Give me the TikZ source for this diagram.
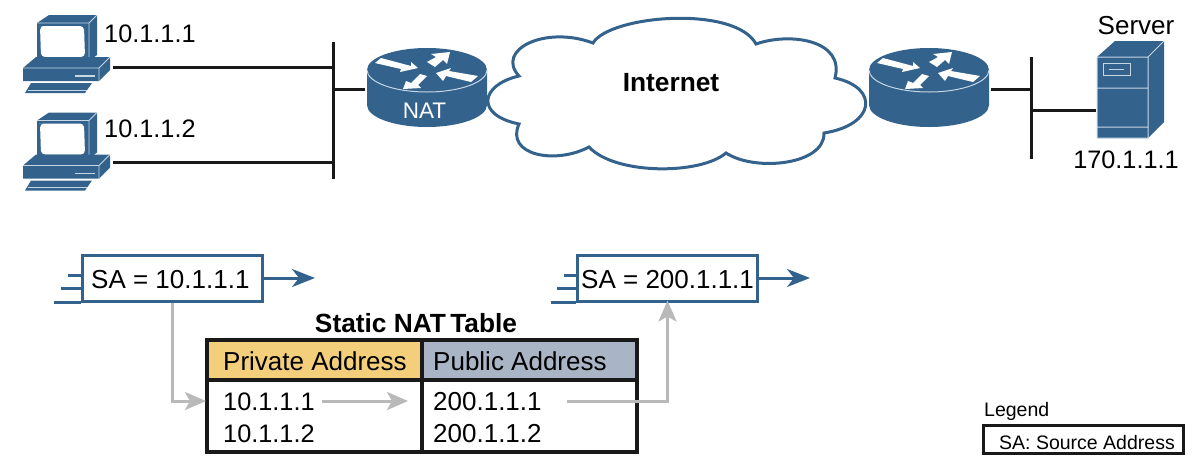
\documentclass[tikz,border=0pt]{standalone}
\usepackage{xcolor}
\usepackage{fontspec}
\setmainfont{Liberation Sans}
\usetikzlibrary{arrows.meta}

\definecolor{netblue}{HTML}{33628C}
\definecolor{iconline}{HTML}{C6D6E4}
\definecolor{flowgray}{HTML}{B9B9B9}
\definecolor{privfill}{HTML}{F3CF7C}
\definecolor{pubfill}{HTML}{A9B5C5}

\tikzset{
  wire/.style={draw=black!90, line width=3pt},
  flow/.style={draw=flowgray, line width=3pt, -{Stealth[length=21pt,width=18pt,inset=5pt]}},
  packet/.style={draw=netblue, line width=3pt, fill=white, minimum width=180pt, minimum height=46pt, inner sep=0pt},
  stub/.style={draw=netblue, line width=3pt},
  label/.style={inner sep=0pt, font=\fontsize{26}{26}\selectfont},
  hostlabel/.style={inner sep=0pt, font=\fontsize{25.3}{26}\selectfont},
  boldlabel/.style={inner sep=0pt, font=\fontsize{26.3}{26}\selectfont\bfseries},
  cell/.style={draw=black!90, line width=3.4pt, inner sep=0pt},
  pc/.pic={
    % monitor
    \fill[netblue] (37,23) -- (49,15) -- (97,15) -- (97,55) -- (89,61) -- (37,61) -- cycle;
    \draw[iconline, line width=.8pt] (37,23) -- (89,23) -- (97,15) (89,23) -- (89,61);
    \fill[white] (43,26) [rounded corners=4pt] -- (84,26) -- (85,57) -- (41,57) -- (40,26) -- cycle;
    % base
    \fill[netblue] (23,68) -- (36,57) -- (110,57) -- (110,70) -- (99,81) -- (23,81) -- cycle;
    \draw[iconline, line width=.8pt] (23,68) -- (99,68) -- (110,57) (99,68) -- (99,81);
    \draw[iconline, line width=1.6pt] (75,76) -- (95,76);
    % keyboard
    \fill[netblue] (31,83) -- (92,83) -- (85,93) -- (25,93) -- cycle;
    \draw[iconline, line width=.8pt] (28,90) -- (87,90);
  },
  router/.pic={
    \fill[netblue] (-60,70) arc[start angle=180, end angle=360, x radius=60, y radius=22]
      -- (60,105) arc[start angle=0, end angle=180, x radius=60, y radius=22] -- cycle;
    \draw[iconline, line width=1pt] (-60,70) arc[start angle=180, end angle=0, x radius=60, y radius=22];
    \begin{scope}[shift={(0,68)}]
      \fill[white] (-52,-5) -- (-46,-10) -- (-16,-2) -- (-16,-6) -- (-9,0) -- (-27,4) -- (-26,1) -- cycle;
      \fill[white] (23,-16) -- (20,-4) -- (16,-8) -- (8,-1) -- (0,-6) -- (9,-11) -- (4,-14) -- cycle;
      \fill[white] (9,5) -- (24,0) -- (22,3) -- (51,8) -- (44,14) -- (19,8) -- (16,13) -- cycle;
      \fill[white] (-24,21) -- (-21,13) -- (-16,15) -- (-7,6) -- (0,8) -- (-9,17) -- (-6,20) -- cycle;
    \end{scope}
  }
}

\begin{document}
\begin{tikzpicture}[x=1pt,y=-1pt]
\useasboundingbox (0,0) rectangle (1200,461);

    % hosts and routers
    \pic at (0,0) {pc};
    \pic at (0,97.5) {pc};
    \pic at (427,0) {router};
    \pic at (929,0) {router};

    \node[inner sep=0pt, white, anchor=base, font=\fontsize{22.5}{23}\selectfont] (nat) at (424.5,118) {NAT};
    \node[hostlabel, anchor=base west] (hostA) at (104,42) {10.1.1.1};
    \node[hostlabel, anchor=base west] (hostB) at (104,137) {10.1.1.2};

    % cloud
    \filldraw[fill=white, draw=netblue, line width=3pt] (593,43)
      .. controls (610,15) and (735,5) .. (756,44)
      .. controls (790,32) and (845,40) .. (835,78)
      .. controls (880,88) and (875,125) .. (824,133)
      .. controls (825,165) and (755,172) .. (726,153)
      .. controls (700,175) and (615,175) .. (589,147)
      .. controls (555,165) and (505,155) .. (519,124)
      .. controls (475,115) and (480,85) .. (519,76)
      .. controls (495,50) and (545,25) .. (593,43) -- cycle;
    \node[boldlabel] (inet) at (671,83) {Internet};

    % server
    \fill[netblue] (1097,57) -- (1115,41) -- (1164,41) -- (1164,122) -- (1148,138) -- (1097,138) -- cycle;
    \draw[iconline, line width=1pt] (1097,57) -- (1148,57) -- (1164,41) (1148,57) -- (1148,138) (1097,88) -- (1148,88) (1097,127) -- (1148,127) (1097,57) -- (1097,138) -- (1148,138);
    \draw[iconline, line width=1pt] (1103,63) rectangle (1130,75);
    \draw[iconline, line width=1pt] (1109,69) -- (1124,69);
    \node[label] (srvname) at (1136,26) {Server};
    \node[hostlabel, anchor=base] (srvaddr) at (1126,168) {170.1.1.1};

    % wires
    \coordinate (pcA) at (113,67.5);
    \coordinate (pcB) at (113,162);
    \coordinate (barAtop) at (333.5,42);
    \coordinate (barAbot) at (333.5,179);
    \coordinate (natL) at (365,89.5);
    \coordinate (rtrR) at (991,89.5);
    \coordinate (barBtop) at (1031,57);
    \coordinate (barBbot) at (1031,159);
    \coordinate (srvL) at (1096,110);

    \draw[wire] (barAtop) -- (barAbot);
    \draw[wire] (pcA) -- (pcA -| barAtop);
    \draw[wire] (pcB) -- (pcB -| barAtop);
    \draw[wire] (natL) -- (natL -| barAtop);
    \draw[wire] (barBtop) -- (barBbot);
    \draw[wire] (rtrR) -- (rtrR -| barBtop);
    \draw[wire] (srvL) -- (srvL -| barBtop);

    % packets
    \node[packet] (pktA) at (172,278) {};
    \node[packet] (pktB) at (667.5,278) {};
    \node[label, anchor=base west] (saA) at (91,288) {SA = 10.1.1.1};
    \node[label, anchor=base west] (saB) at (581,288) {SA = 200.1.1.1};
    \foreach \pk/\stubA/\stubB/\stubC in {pktA/13/20/27, pktB/12/19/25} {
      \draw[stub] (\pk.west) ++(-\stubA,-3) -- ++(\stubA,0);
      \draw[stub] (\pk.west) ++(-\stubB,10) -- ++(\stubB,0);
      \draw[stub] (\pk.south west) ++(-\stubC,0) -- ++(\stubC,0);
    }
    \coordinate (outA) at (315,278);
    \coordinate (outB) at (810,278);
    \draw[stub, -{Stealth[length=23pt,width=18pt,inset=7pt]}] (pktA) -- (outA);
    \draw[stub, -{Stealth[length=23pt,width=18pt,inset=7pt]}] (pktB) -- (outB);

    % table
    \node[boldlabel, anchor=base] (tabtitle) at (416,332) {Static NAT\kern-3pt\ Table};
    \node[cell, fill=privfill, minimum width=215pt, minimum height=40pt] (hdrPriv) at (314.5,360) {};
    \node[cell, fill=pubfill, minimum width=215pt, minimum height=40pt] (hdrPub) at (529.5,360) {};
    \node[cell, minimum width=215pt, minimum height=72pt] (bodyPriv) at (314.5,416) {};
    \node[cell, minimum width=215pt, minimum height=72pt] (bodyPub) at (529.5,416) {};

    \node[label, anchor=base west] (privtxt) at (223,370) {Private Address};
    \node[label, anchor=base west] (pubtxt) at (433,370) {Public Address};
    \node[hostlabel, anchor=base west] (privA) at (223,410) {10.1.1.1};
    \node[hostlabel, anchor=base west] (privB) at (223,442) {10.1.1.2};
    \node[label, anchor=base west] (pubA) at (433,410) {200.1.1.1};
    \node[label, anchor=base west] (pubB) at (433,442) {200.1.1.2};

    % the lookup
    \coordinate (rowL) at (206,401);
    \coordinate (rowM) at (408,401);
    \coordinate (rowS) at (322,401);
    \coordinate (rowP) at (567,401);
    \draw[flow] (pktA.south) |- (rowL);
    \draw[flow] (rowS) -- (rowM);
    \draw[flow] (rowP) -| ([yshift=2pt]pktB.south);

    % legend
    \node[inner sep=0pt, anchor=base west, font=\fontsize{19.5}{20}\selectfont] (legend) at (984,416) {Legend};
    \node[draw=black!90, line width=3pt, minimum width=200pt, minimum height=28pt, inner sep=0pt] (legbox) at (1083,439) {};
    \node[inner sep=0pt, anchor=base west, font=\fontsize{19.5}{20}\selectfont] (legtxt) at (999,449) {SA: Source Address};

\end{tikzpicture}
\end{document}
